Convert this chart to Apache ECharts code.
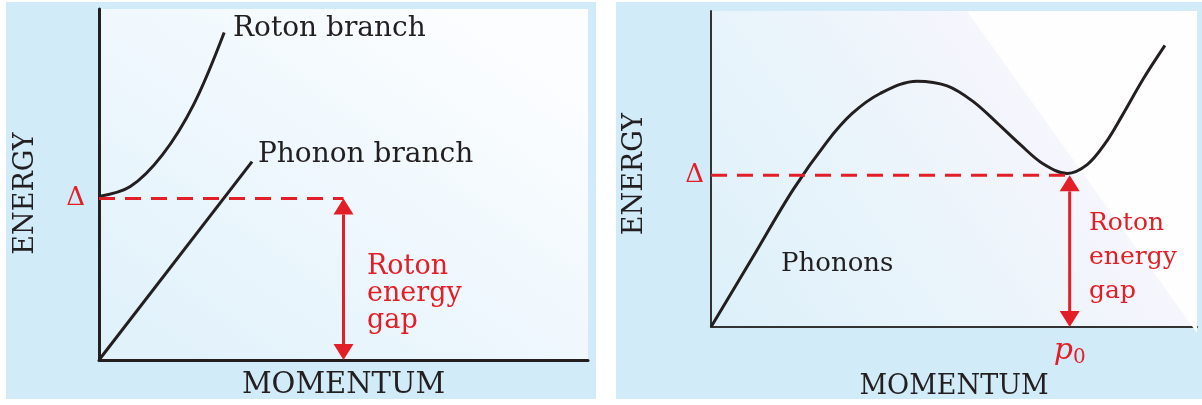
<!DOCTYPE html>
<html>
<head>
<meta charset="utf-8">
<script src="https://cdn.jsdelivr.net/npm/echarts@6/dist/echarts.min.js"></script>
<style>
html, body { margin: 0; padding: 0; background: #fff; }
#wrap { position: relative; width: 1202px; height: 405px; }
.panel { position: absolute; background: #d2ebf8; }
#chart { position: absolute; left: 0; top: 0; width: 1202px; height: 405px; }
</style>
</head>
<body>
<div id="wrap">
  <div class="panel" style="left:6px;top:2px;width:590px;height:397px"></div>
  <div class="panel" style="left:616px;top:2px;width:586px;height:397px"></div>
  <div id="chart"></div>
</div>
<script>
// left panel: roton and phonon branches (arbitrary units, 0..100)
const leftDelta = 46
const leftGapX = 50
const rotonX = [0, 6.4, 13.0, 19.4, 25.6]
const rotonY = [46.6, 49.4, 58.5, 72.9, 93.3]
const phononX = [0, 31.3]
const phononY = [0, 56.5]

// right panel: the single dispersion curve
const curveX = [0, 8.4, 16.9, 23.9, 29.0, 34.8, 42.4, 48.6, 53.9, 58.8, 63.6, 68.3, 73.3, 77.4, 81.1, 84.6, 88.9, 93.4]
const curveY = [0, 21.6, 43.5, 58.7, 67.5, 73.9, 77.8, 76.3, 71.4, 64.7, 57.8, 51.7, 48.6, 51.4, 58.1, 66.9, 78.4, 89.1]
const rightDelta = 48
const p0 = 73.8

const INK = '#231f20'
const RED = '#e31e26'
const FONT = 'DejaVu Serif'

const zip = (xs, ys) => xs.map((x, i) => [x, ys[i]])

function arrow(params, api) {
  const top = api.coord([api.value(0), api.value(1)])
  const bot = api.coord([api.value(0), 0])
  const hw = 10, hh = 16
  return {
    type: 'group',
    children: [
      { type: 'line', shape: { x1: top[0], y1: top[1] + hh, x2: bot[0], y2: bot[1] - hh }, style: { stroke: RED, lineWidth: 3 } },
      { type: 'polygon', shape: { points: [[top[0], top[1]], [top[0] - hw, top[1] + hh], [top[0] + hw, top[1] + hh]] }, style: { fill: RED } },
      { type: 'polygon', shape: { points: [[bot[0], bot[1]], [bot[0] - hw, bot[1] - hh], [bot[0] + hw, bot[1] - hh]] }, style: { fill: RED } }
    ]
  }
}

const hidden = { show: false }
const txt = (x, y, text, size, fill, extra) => ({
  type: 'text', x, y, z: 10,
  style: Object.assign({ text, fontFamily: FONT, fontSize: size, fill, verticalAlign: 'middle' }, extra)
})

const chart = echarts.init(document.getElementById('chart'))
chart.setOption({
  animation: false,
  grid: [
    {
      left: 99, top: 9, width: 489, height: 353, show: true, borderWidth: 0,
      backgroundColor: new echarts.graphic.LinearGradient(0.7, 0, 0.2, 1, [
        { offset: 0, color: '#fbfdff' },
        { offset: 1, color: '#e2f2fb' }
      ])
    },
    {
      left: 711, top: 11, width: 486, height: 329, show: true, borderWidth: 0,
      backgroundColor: {
        type: 'linear', global: true, x: 711, y: 340, x2: 1036, y2: 106,
        colorStops: [
          { offset: 0, color: '#dcf0f9' },
          { offset: 0.4, color: '#e6f3fb' },
          { offset: 0.75, color: '#eef5fb' },
          { offset: 0.9, color: '#f3f5fc' },
          { offset: 1, color: '#f6f6fd' }
        ]
      }
    }
  ],
  xAxis: [
    {
      type: 'value', gridIndex: 0, min: 0, max: 100,
      axisLine: { lineStyle: { color: INK, width: 3 } },
      axisTick: hidden, splitLine: hidden, axisLabel: hidden,
      name: 'MOMENTUM', nameLocation: 'middle', nameGap: 11,
      nameTextStyle: { fontFamily: FONT, fontSize: 29, color: INK }
    },
    {
      type: 'value', gridIndex: 1, min: 0, max: 100,
      axisLine: { lineStyle: { color: '#333', width: 2 } },
      axisTick: hidden, splitLine: hidden,
      axisLabel: {
        customValues: [p0], margin: 7,
        formatter: () => '{p|p}{s|0}',
        rich: {
          p: { fontFamily: FONT, fontSize: 30, fontStyle: 'italic', color: RED },
          s: { fontFamily: FONT, fontSize: 20, color: RED, verticalAlign: 'bottom', padding: [14, 0, 0, 0] }
        }
      },
      name: 'MOMENTUM', nameLocation: 'middle', nameGap: 32,
      nameTextStyle: { fontFamily: FONT, fontSize: 27, color: INK }
    }
  ],
  yAxis: [
    {
      type: 'value', gridIndex: 0, min: 0, max: 100,
      axisLine: { lineStyle: { color: INK, width: 3 } },
      axisTick: hidden, splitLine: hidden,
      axisLabel: {
        customValues: [leftDelta], margin: 14, formatter: () => 'Δ',
        fontFamily: FONT, fontSize: 26, color: RED
      },
      name: 'ENERGY', nameLocation: 'middle', nameGap: 60,
      nameTextStyle: { fontFamily: FONT, fontSize: 27, color: INK, padding: [0, 18, 0, 0] }
    },
    {
      type: 'value', gridIndex: 1, min: 0, max: 100,
      axisLine: { lineStyle: { color: '#333', width: 2 } },
      axisTick: hidden, splitLine: hidden,
      axisLabel: {
        customValues: [rightDelta], margin: 7, formatter: () => 'Δ',
        fontFamily: FONT, fontSize: 26, color: RED
      },
      name: 'ENERGY', nameLocation: 'middle', nameGap: 63,
      nameTextStyle: { fontFamily: FONT, fontSize: 27, color: INK, padding: [0, 10, 0, 0] }
    }
  ],
  series: [
    {
      type: 'line', xAxisIndex: 0, yAxisIndex: 0, data: zip(rotonX, rotonY),
      smooth: 0.35, showSymbol: false, lineStyle: { color: INK, width: 3 }
    },
    {
      type: 'line', xAxisIndex: 0, yAxisIndex: 0, data: zip(phononX, phononY),
      showSymbol: false, lineStyle: { color: INK, width: 3 }
    },
    {
      type: 'line', xAxisIndex: 0, yAxisIndex: 0, data: [[0, leftDelta], [leftGapX, leftDelta]],
      showSymbol: false, lineStyle: { color: RED, width: 3, type: [16, 10] }, z: 3
    },
    {
      type: 'custom', xAxisIndex: 0, yAxisIndex: 0, data: [[leftGapX, leftDelta]],
      renderItem: arrow, z: 4
    },
    {
      type: 'line', xAxisIndex: 1, yAxisIndex: 1, data: zip(curveX, curveY),
      smooth: 0.35, showSymbol: false, lineStyle: { color: INK, width: 3 }
    },
    {
      type: 'line', xAxisIndex: 1, yAxisIndex: 1, data: [[0, rightDelta], [p0, rightDelta]],
      showSymbol: false, lineStyle: { color: RED, width: 3, type: [16, 10] }, z: 3
    },
    {
      type: 'custom', xAxisIndex: 1, yAxisIndex: 1, data: [[p0, rightDelta]],
      renderItem: arrow, z: 4
    }
  ],
  graphic: [
    // white wedge in the upper right of the right-hand backdrop
    { type: 'polygon', z: 1, silent: true, shape: { points: [[967, 11], [1197, 11], [1197, 333]] }, style: { fill: '#fefeff' } },
    txt(233, 29, 'Roton branch', 28, INK),
    txt(258, 155, 'Phonon branch', 28, INK),
    txt(367, 294, 'Roton\nenergy\ngap', 27, RED, { lineHeight: 27 }),
    txt(781, 264, 'Phonons', 26, INK),
    txt(1089, 257, 'Roton\nenergy\ngap', 25, RED, { lineHeight: 34 })
  ]
})
</script>
</body>
</html>
